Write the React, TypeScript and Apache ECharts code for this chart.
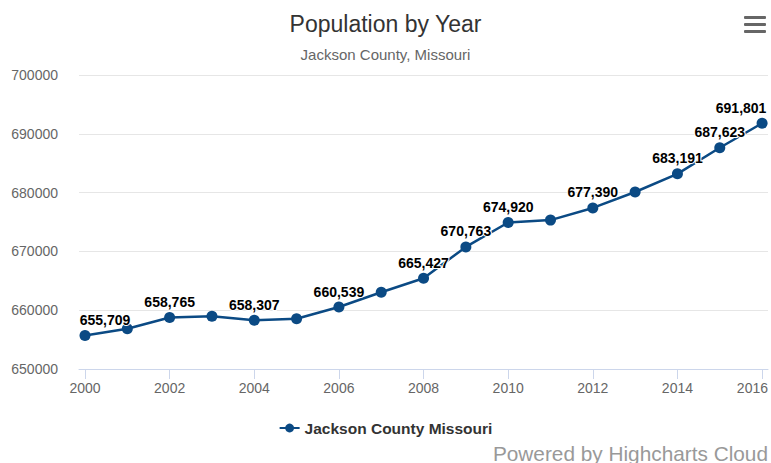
import React, { useEffect, useRef } from "react";
import * as echarts from "echarts";

const years = [2000, 2001, 2002, 2003, 2004, 2005, 2006, 2007, 2008, 2009, 2010, 2011, 2012, 2013, 2014, 2015, 2016];
const population = [655709, 656850, 658765, 658980, 658307, 658540, 660539, 663050, 665427, 670763, 674920, 675320, 677390, 680100, 683191, 687623, 691801];
const showLabel = [true, false, true, false, true, false, true, false, true, true, true, false, true, false, true, true, true];
const xTickLabels = [2000, 2002, 2004, 2006, 2008, 2010, 2012, 2014, 2016];
const seriesName = "Jackson County Missouri";
const titleText = "Population by Year";
const subtitleText = "Jackson County, Missouri";
const creditsText = "Powered by Highcharts Cloud";

const FONT = "'Liberation Sans', Arial, Helvetica, sans-serif";
const LINE_COLOR = "#0b4a84";
const X_MIN = 1999.858;
const X_MAX = 2016.14;

export default function App() {
  const ref = useRef<HTMLDivElement>(null);

  useEffect(() => {
    document.body.style.margin = "0";
    if (!ref.current) return;
    const chart = echarts.init(ref.current, undefined, { renderer: "svg" });

    const data = years.map((y, i) => {
      const item: any = { value: [y, population[i]] };
      if (!showLabel[i]) {
        item.label = { show: false };
      } else if (i === 0) {
        item.label = { offset: [20, 0] };
      } else if (i === years.length - 1) {
        item.label = { offset: [-21, 0] };
      }
      return item;
    });

    // last label is pushed inside the plot edge (like Highcharts does)
    const labelValues = xTickLabels.map((v, i) => (i === xTickLabels.length - 1 ? X_MAX : v));

    chart.setOption({
      animation: false,
      backgroundColor: "#ffffff",
      textStyle: { fontFamily: FONT },
      title: [
        {
          text: titleText,
          left: "center",
          top: 7,
          textStyle: { fontFamily: FONT, fontSize: 23, fontWeight: "normal", color: "#333333" },
        },
        {
          text: subtitleText,
          left: "center",
          top: 42,
          textStyle: { fontFamily: FONT, fontSize: 15, fontWeight: "normal", color: "#666666" },
        },
      ],
      grid: { left: 79, right: 3, top: 75, bottom: 94, containLabel: false, outerBoundsMode: "none" },
      xAxis: {
        type: "value",
        min: X_MIN,
        max: X_MAX,
        axisLine: { show: true, lineStyle: { color: "#ccd6eb", width: 1 } },
        axisTick: { show: true, length: 10, customValues: xTickLabels, lineStyle: { color: "#ccd6eb" } },
        axisLabel: {
          customValues: labelValues,
          alignMaxLabel: "right",
          color: "#666666",
          fontSize: 14,
          fontFamily: FONT,
          margin: 12,
          formatter: (v: number) => String(Math.round(v)),
        },
        splitLine: { show: false },
      },
      yAxis: {
        type: "value",
        min: 650000,
        max: 700000,
        interval: 10000,
        axisLine: { show: false },
        axisTick: { show: false },
        axisLabel: {
          color: "#666666",
          fontSize: 14,
          fontFamily: FONT,
          margin: 21,
          formatter: (v: number) => String(v),
        },
        splitLine: { show: true, lineStyle: { color: "#e6e6e6", width: 1 } },
      },
      legend: {
        show: true,
        bottom: 22,
        left: "center",
        itemWidth: 20,
        itemHeight: 11,
        itemGap: 10,
        textStyle: { fontFamily: FONT, fontSize: 15.5, fontWeight: "bold", color: "#333333" },
        data: [seriesName],
      },
      series: [
        {
          name: seriesName,
          type: "line",
          data,
          symbol: "circle",
          symbolSize: 11,
          itemStyle: { color: LINE_COLOR },
          lineStyle: { color: LINE_COLOR, width: 2.5 },
          label: {
            show: true,
            position: "top",
            distance: 3,
            fontFamily: FONT,
            fontSize: 14,
            fontWeight: "bold",
            color: "#000000",
            textBorderColor: "#ffffff",
            textBorderWidth: 2,
            formatter: (p: any) => Number(p.value[1]).toLocaleString("en-US"),
          },
        },
      ],
      graphic: [
        {
          type: "text",
          x: 768,
          y: 453,
          style: {
            text: creditsText,
            fontFamily: FONT,
            fontSize: 20.8,
            fill: "#999999",
            textAlign: "right",
            textVerticalAlign: "middle",
          },
        },
        { type: "rect", shape: { x: 744, y: 16, width: 22, height: 3, r: 1 }, style: { fill: "#666666" } },
        { type: "rect", shape: { x: 744, y: 23, width: 22, height: 3, r: 1 }, style: { fill: "#666666" } },
        { type: "rect", shape: { x: 744, y: 30, width: 22, height: 3, r: 1 }, style: { fill: "#666666" } },
      ],
    });

    return () => chart.dispose();
  }, []);

  return (
    <div
      ref={ref}
      style={{ position: "absolute", left: 0, top: 0, width: 771, height: 463 }}
    />
  );
}
